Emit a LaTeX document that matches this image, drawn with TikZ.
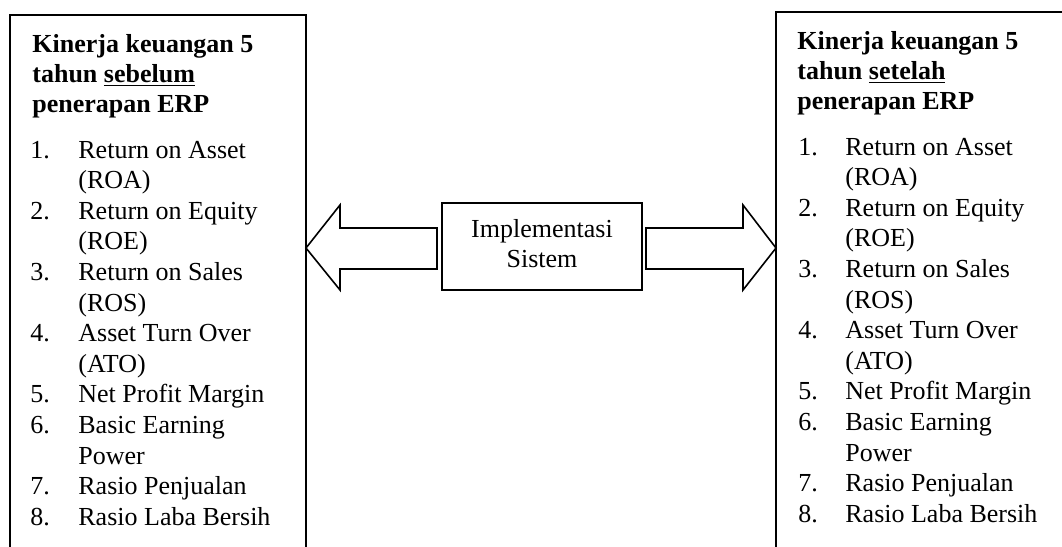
\documentclass[tikz,border=0pt]{standalone}
\usepackage{fontspec}
\setmainfont{Liberation Serif}
\newcommand{\garisbawah}[1]{\setbox0\hbox{#1}\rlap{\rule[-2.2pt]{\wd0}{0.8pt}}\box0}
\begin{document}
\begin{tikzpicture}[x=0.5pt, y=-0.5pt, line join=miter]
    \tikzstyle{teks}=[inner sep=0pt, anchor=base west, font=\fontsize{13}{15}\selectfont]
    \tikzstyle{daftar}=[inner sep=0pt, anchor=base west, font=\fontsize{13}{15.3}\selectfont]
    \tikzstyle{kotak}=[draw, line width=1pt]
    \tikzstyle{panah}=[draw, line width=0.8pt]
    \clip (0,0) rectangle (1062,547);
    \draw[kotak] (10,580) -- (10,15) -- (306,15) -- (306,580);
    \draw[kotak] (776,580) -- (776,12) -- (1100,12);
    \node[teks] (judulKiri) at (32,52) {\begin{tabular}[t]{@{}l@{}}\bfseries Kinerja keuangan 5\\ \bfseries tahun \garisbawah{sebelum}\\ \bfseries penerapan ERP\end{tabular}};
    \node[daftar] (daftarKiri) at (30,158) {\begin{tabular}[t]{@{}p{24pt}@{}l@{}}
      1. & Return on Asset\\ & (ROA)\\ 2. & Return on Equity\\ & (ROE)\\
      3. & Return on Sales\\ & (ROS)\\ 4. & Asset Turn Over\\ & (ATO)\\
      5. & Net Profit Margin\\ 6. & Basic Earning\\ & Power\\
      7. & Rasio Penjualan\\ 8. & Rasio Laba Bersih\end{tabular}};
    \node[teks] (judulKanan) at (797,49) {\begin{tabular}[t]{@{}l@{}}\bfseries Kinerja keuangan 5\\ \bfseries tahun \garisbawah{setelah}\\ \bfseries penerapan ERP\end{tabular}};
    \node[daftar] (daftarKanan) at (798,155) {\begin{tabular}[t]{@{}p{23.5pt}@{}l@{}}
      1. & Return on Asset\\ & (ROA)\\ 2. & Return on Equity\\ & (ROE)\\
      3. & Return on Sales\\ & (ROS)\\ 4. & Asset Turn Over\\ & (ATO)\\
      5. & Net Profit Margin\\ 6. & Basic Earning\\ & Power\\
      7. & Rasio Penjualan\\ 8. & Rasio Laba Bersih\end{tabular}};
    \node[kotak, minimum width=100pt, minimum height=43.5pt, inner sep=0pt, font=\fontsize{13}{15}\selectfont] (impl) at (542,246.5) {\begin{tabular}{@{}c@{}}Implementasi\\ Sistem\end{tabular}};
    \draw[panah] (306,248) -- (340,205) -- (340,228) -- (437,228) -- (437,269) -- (340,269) -- (340,290) -- cycle;
    \draw[panah] (776,248) -- (743,205) -- (743,228) -- (646,228) -- (646,269) -- (743,269) -- (743,290) -- cycle;
  \end{tikzpicture}
\end{document}
